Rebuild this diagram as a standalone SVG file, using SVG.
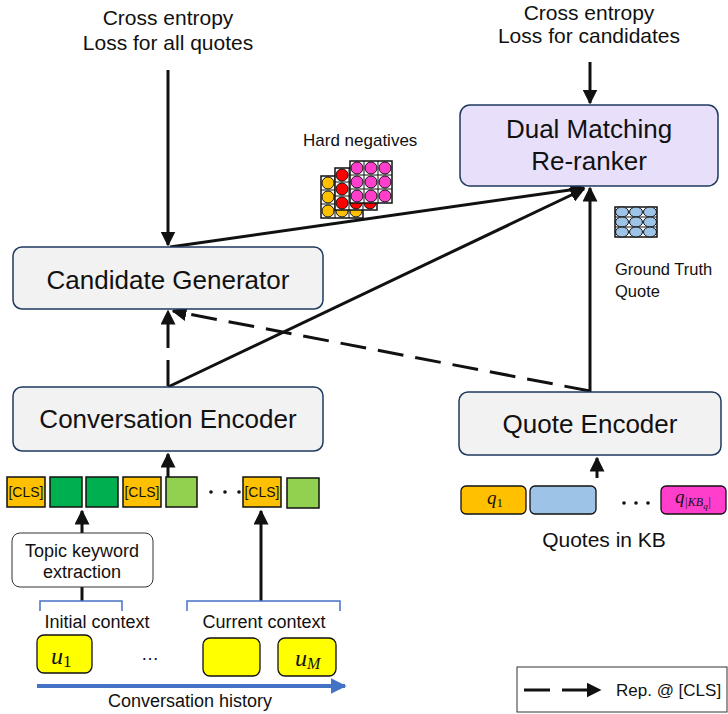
<svg xmlns="http://www.w3.org/2000/svg" width="728" height="714" viewBox="0 0 728 714">
<defs>
<style>
text{font-family:"Liberation Sans",Arial,sans-serif;fill:#111}
.box{fill:#F2F2F2;stroke:#1F3A5F;stroke-width:1.5}
.lbl{font-size:26px;text-anchor:middle}
.mid{font-size:21px;text-anchor:middle}
.sm{font-size:18px;text-anchor:middle}
.conn{stroke:#111;stroke-width:3;fill:none}
.dash{stroke-dasharray:26 12}
.tok{stroke:#111;stroke-width:1.5}
.cls{font-size:14px;text-anchor:middle}
.math{font-family:"Liberation Serif",serif;font-style:italic}
.brace{stroke:#4472C4;stroke-width:1.5;fill:none}
.cell{stroke:#111;stroke-width:1}
</style>
<marker id="ah" viewBox="0 0 10 10" refX="9" refY="5" markerWidth="5" markerHeight="5" orient="auto-start-reverse" markerUnits="strokeWidth">
<path d="M0,0 L10,5 L0,10 z" fill="#111"/>
</marker>
<marker id="ahb" viewBox="0 0 10 10" refX="9" refY="5" markerWidth="4" markerHeight="4" orient="auto" markerUnits="strokeWidth">
<path d="M0,0 L10,5 L0,10 z" fill="#4472C4"/>
</marker>
<g id="cellgrid">
<rect x="0" y="0" width="42" height="42" fill="#fff" stroke="#111" stroke-width="1.5"/>
<path d="M14,0V42M28,0V42M0,14H42M0,28H42" stroke="#111" stroke-width="1"/>
</g>
</defs>

<!-- loss labels -->
<text class="mid" x="168" y="25">Cross entropy</text>
<text class="mid" x="168" y="50">Loss for all quotes</text>
<text class="mid" x="589" y="20">Cross entropy</text>
<text class="mid" x="589" y="43">Loss for candidates</text>

<!-- connectors -->
<g id="connectors">
<line class="conn" x1="168" y1="70" x2="168" y2="245" marker-end="url(#ah)"/>
<line class="conn" x1="590" y1="62" x2="590" y2="103" marker-end="url(#ah)"/>
<line class="conn" x1="170" y1="247" x2="584" y2="188" marker-end="url(#ah)"/>
<line class="conn" x1="168" y1="387" x2="584" y2="189" marker-end="url(#ah)"/>
<line class="conn" x1="590" y1="392" x2="590" y2="188" marker-end="url(#ah)"/>
<line class="conn dash" x1="168" y1="386" x2="168" y2="311" marker-end="url(#ah)"/>
<line class="conn dash" x1="590" y1="391" x2="173" y2="311" marker-end="url(#ah)"/>
<line class="conn" x1="168" y1="477" x2="168" y2="454" marker-end="url(#ah)"/>
<line class="conn" x1="597" y1="478" x2="597" y2="458" marker-end="url(#ah)"/>
<line class="conn" x1="82" y1="533" x2="82" y2="511" marker-end="url(#ah)"/>
<line class="conn" x1="261" y1="601" x2="261" y2="511" marker-end="url(#ah)"/>
<line class="conn" x1="82" y1="587" x2="82" y2="601"/>
</g>

<!-- Candidate Generator -->
<g id="candidate-generator">
<rect class="box" x="13" y="247" width="310" height="62" rx="9"/>
<text class="lbl" x="168" y="289">Candidate Generator</text>
</g>

<!-- Conversation Encoder -->
<g id="conversation-encoder">
<rect class="box" x="13" y="387" width="310" height="64" rx="9"/>
<text class="lbl" x="168" y="428">Conversation Encoder</text>
</g>

<!-- Dual Matching Re-ranker -->
<g id="dual-matching">
<rect x="460" y="105" width="258" height="81" rx="10" fill="#E8DFFB" stroke="#1F3A5F" stroke-width="1.5"/>
<text class="lbl" x="589" y="138">Dual Matching</text>
<text class="lbl" x="589" y="170">Re-ranker</text>
</g>

<!-- Quote Encoder -->
<g id="quote-encoder">
<rect class="box" x="459" y="392" width="262" height="63" rx="9"/>
<text class="lbl" x="590" y="433">Quote Encoder</text>
</g>

<!-- hard negatives -->
<g id="hard-negatives">
<text x="303" y="146" style="font-size:17px">Hard negatives</text>
<g transform="translate(321,176)">
<use href="#cellgrid"/>
<g fill="#FFC000" class="cell">
<circle cx="7" cy="7" r="6"/><circle cx="21" cy="7" r="6"/><circle cx="35" cy="7" r="6"/>
<circle cx="7" cy="21" r="6"/><circle cx="21" cy="21" r="6"/><circle cx="35" cy="21" r="6"/>
<circle cx="7" cy="35" r="6"/><circle cx="21" cy="35" r="6"/><circle cx="35" cy="35" r="6"/>
</g>
</g>
<g transform="translate(335,168)">
<use href="#cellgrid"/>
<g fill="#FF0000" class="cell">
<circle cx="7" cy="7" r="6"/><circle cx="21" cy="7" r="6"/><circle cx="35" cy="7" r="6"/>
<circle cx="7" cy="21" r="6"/><circle cx="21" cy="21" r="6"/><circle cx="35" cy="21" r="6"/>
<circle cx="7" cy="35" r="6"/><circle cx="21" cy="35" r="6"/><circle cx="35" cy="35" r="6"/>
</g>
</g>
<g transform="translate(350,161)">
<use href="#cellgrid"/>
<g fill="#FF3FCC" class="cell">
<circle cx="7" cy="7" r="6"/><circle cx="21" cy="7" r="6"/><circle cx="35" cy="7" r="6"/>
<circle cx="7" cy="21" r="6"/><circle cx="21" cy="21" r="6"/><circle cx="35" cy="21" r="6"/>
<circle cx="7" cy="35" r="6"/><circle cx="21" cy="35" r="6"/><circle cx="35" cy="35" r="6"/>
</g>
</g>
</g>

<!-- ground truth -->
<g id="ground-truth">
<rect x="615" y="207" width="42" height="30" fill="#fff" stroke="#111" stroke-width="1.5"/>
<path d="M615,217H657M615,227H657" stroke="#111" stroke-width="1"/>
<g fill="#9DC3E6" class="cell">
<ellipse cx="622" cy="212" rx="6.5" ry="5"/><ellipse cx="636" cy="212" rx="6.5" ry="5"/><ellipse cx="650" cy="212" rx="6.5" ry="5"/>
<ellipse cx="622" cy="222" rx="6.5" ry="5"/><ellipse cx="636" cy="222" rx="6.5" ry="5"/><ellipse cx="650" cy="222" rx="6.5" ry="5"/>
<ellipse cx="622" cy="232" rx="6.5" ry="5"/><ellipse cx="636" cy="232" rx="6.5" ry="5"/><ellipse cx="650" cy="232" rx="6.5" ry="5"/>
</g>
<text x="615" y="275" style="font-size:16.5px">Ground Truth</text>
<text x="615" y="297" style="font-size:16.5px">Quote</text>
</g>

<!-- token sequence -->
<g id="tokens">
<rect class="tok" x="7" y="477" width="38" height="30" fill="#FFC000"/>
<text class="cls" x="26" y="497">[CLS]</text>
<rect class="tok" x="50" y="477" width="32" height="30" fill="#00B050"/>
<rect class="tok" x="86" y="477" width="32" height="30" fill="#00B050"/>
<rect class="tok" x="123" y="477" width="38" height="30" fill="#FFC000"/>
<text class="cls" x="142" y="497">[CLS]</text>
<rect class="tok" x="166" y="477" width="31" height="30" fill="#92D050"/>
<g fill="#111"><circle cx="211" cy="492" r="1.8"/><circle cx="225" cy="492" r="1.8"/><circle cx="239" cy="492" r="1.8"/></g>
<rect class="tok" x="243" y="477" width="38" height="30" fill="#FFC000"/>
<text class="cls" x="262" y="497">[CLS]</text>
<rect class="tok" x="287" y="478" width="32" height="30" fill="#92D050"/>
</g>

<!-- topic keyword extraction -->
<g id="topic-keyword">
<rect x="12" y="533" width="141" height="54" rx="8" fill="#fff" stroke="#333" stroke-width="1"/>
<text class="sm" x="82" y="557">Topic keyword</text>
<text class="sm" x="82" y="578">extraction</text>
</g>

<!-- context brackets -->
<g id="contexts">
<path class="brace" d="M40,611V601H122V611"/>
<path class="brace" d="M187,611V601H340V611"/>
<text class="sm" x="97" y="628">Initial context</text>
<text class="sm" x="264" y="628">Current context</text>
</g>

<!-- utterances -->
<g id="utterances">
<rect x="37" y="635" width="55" height="38" rx="7" fill="#FFFF00" stroke="#111" stroke-width="1.3"/>
<text class="math" x="51" y="664" style="font-size:24px">u<tspan style="font-style:normal;font-size:17px" dy="3">1</tspan></text>
<text x="150" y="660" style="font-size:18px;text-anchor:middle">…</text>
<rect x="203" y="638" width="57" height="38" rx="7" fill="#FFFF00" stroke="#111" stroke-width="1.3"/>
<rect x="278" y="638" width="58" height="38" rx="7" fill="#FFFF00" stroke="#111" stroke-width="1.3"/>
<text class="math" x="295" y="666" style="font-size:24px">u<tspan style="font-size:16px" dy="3">M</tspan></text>
<line x1="37" y1="686" x2="345" y2="686" stroke="#4472C4" stroke-width="4" marker-end="url(#ahb)"/>
<text class="sm" x="190" y="707">Conversation history</text>
</g>

<!-- knowledge base quotes -->
<g id="quotes-kb">
<rect x="461" y="486" width="65" height="28" rx="5" fill="#FFC000" stroke="#111" stroke-width="1.3"/>
<text class="math" x="487" y="504" style="font-size:19px">q<tspan style="font-style:normal;font-size:13px" dy="3">1</tspan></text>
<rect x="530" y="486" width="66" height="28" rx="5" fill="#9DC3E6" stroke="#111" stroke-width="1.3"/>
<g fill="#111"><circle cx="624" cy="503" r="1.8"/><circle cx="636" cy="503" r="1.8"/><circle cx="648" cy="503" r="1.8"/></g>
<rect x="661" y="486" width="65" height="28" rx="5" fill="#FF3FCC" stroke="#111" stroke-width="1.3"/>
<text class="math" x="675" y="503" style="font-size:19px">q<tspan style="font-size:12px" dy="3">|KB<tspan style="font-size:9px" dy="3">q</tspan><tspan dy="-3">|</tspan></tspan></text>
<text class="mid" x="604" y="547">Quotes in KB</text>
</g>

<!-- legend -->
<g id="legend">
<rect x="517" y="667" width="210" height="45" fill="#fff" stroke="#333" stroke-width="1"/>
<line x1="524" y1="690" x2="600" y2="690" class="conn dash" marker-end="url(#ah)"/>
<text x="616" y="696" style="font-size:17px">Rep. @ [CLS]</text>
</g>
</svg>
